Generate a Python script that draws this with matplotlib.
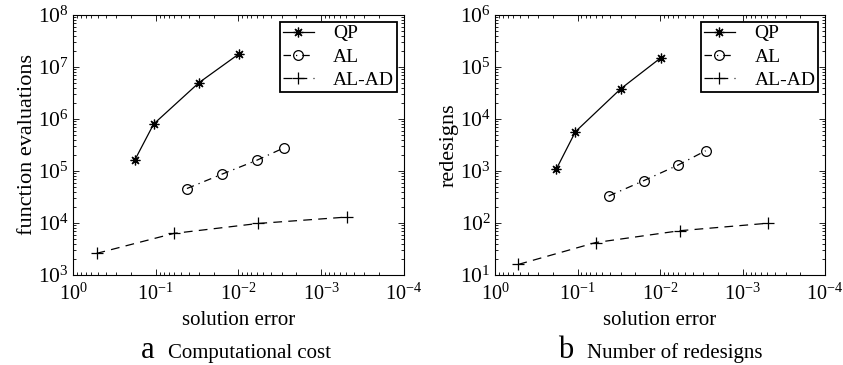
import matplotlib
matplotlib.use("Agg")
import matplotlib.pyplot as plt
from matplotlib.ticker import LogLocator, NullFormatter

plt.rcParams['font.family'] = ['Liberation Serif', 'DejaVu Serif']
plt.rcParams['mathtext.fontset'] = 'custom'
plt.rcParams['mathtext.rm'] = 'Liberation Serif'
plt.rcParams['mathtext.it'] = 'Liberation Serif:italic'
plt.rcParams['mathtext.bf'] = 'Liberation Serif:bold'

series_names = ["QP", "AL", "AL-AD"]

# Panel a: computational cost
qp_err_a = [0.18, 0.106, 0.030, 0.0098]
qp_fe = [1.6e5, 8.0e5, 5.0e6, 1.8e7]
al_err_a = [0.042, 0.0158, 0.00605, 0.0028]
al_fe = [4.6e4, 8.7e4, 1.6e5, 2.8e5]
alad_err_a = [0.52, 0.0605, 0.00578, 0.00049]
alad_fe = [2.6e3, 6.3e3, 9.8e3, 1.3e4]

# Panel b: number of redesigns
qp_err_b = [0.18, 0.106, 0.030, 0.0098]
qp_rd = [1.1e3, 5.7e3, 3.8e4, 1.5e5]
al_err_b = [0.042, 0.0158, 0.00605, 0.0028]
al_rd = [330, 650, 1300, 2450]
alad_err_b = [0.52, 0.0605, 0.00578, 0.00049]
alad_rd = [16, 42, 71, 99]

fig = plt.figure(figsize=(8.43, 3.65), dpi=100)

ax_a = fig.add_axes([0.0866, 0.2466, 0.3926, 0.7123])
ax_b = fig.add_axes([0.5872, 0.2466, 0.3915, 0.7123])

def draw(ax, xs, ys, ylim, ylabel):
    styles = [
        dict(ls='-', marker=(8, 2, 0), ms=7),
        dict(ls=(0, (6, 4, 1, 4)), marker='o', ms=7, mfc='none'),
        dict(ls=(0, (7, 5)), marker='+', ms=8),
    ]
    for name, x, y, st in zip(series_names, xs, ys, styles):
        ax.plot(x, y, color='black', lw=0.9, mec='black', mew=0.9, label=name, **st)
    ax.set_xscale('log')
    ax.set_yscale('log')
    ax.set_xlim(1, 1e-4)
    ax.set_ylim(*ylim)
    ax.xaxis.set_major_locator(LogLocator(base=10, numticks=10))
    ax.yaxis.set_major_locator(LogLocator(base=10, numticks=10))
    ax.xaxis.set_minor_locator(LogLocator(base=10, subs=range(2, 10), numticks=20))
    ax.yaxis.set_minor_locator(LogLocator(base=10, subs=range(2, 10), numticks=20))
    ax.xaxis.set_minor_formatter(NullFormatter())
    ax.yaxis.set_minor_formatter(NullFormatter())
    ax.tick_params(which='both', direction='in', top=True, right=True, width=0.6)
    ax.tick_params(axis='y', which='major', length=4, pad=3, labelsize=15.5)
    ax.tick_params(axis='x', which='major', length=4, pad=6, labelsize=14.5)
    ax.tick_params(which='minor', length=2)
    for s in ax.spines.values():
        s.set_linewidth(0.8)
    ax.set_xlabel('solution error', fontsize=15, labelpad=5)
    ax.set_ylabel(ylabel, fontsize=16, labelpad=1)
    leg = ax.legend(loc='upper right', fontsize=14, frameon=True, fancybox=False,
                    edgecolor='black', framealpha=1, handlelength=1.6,
                    handletextpad=1.0, borderaxespad=0.35, borderpad=0.15,
                    labelspacing=0.3)
    leg.get_frame().set_linewidth(1.3)

draw(ax_a, [qp_err_a, al_err_a, alad_err_a], [qp_fe, al_fe, alad_fe], (1e3, 1e8), 'function evaluations')
draw(ax_b, [qp_err_b, al_err_b, alad_err_b], [qp_rd, al_rd, alad_rd], (1e1, 1e6), 'redesigns')

yb = 1 - 358 / 365
fig.text(148 / 843, yb, 'a', fontsize=22, ha='center', va='baseline')
fig.text(168 / 843, yb, 'Computational cost', fontsize=15, ha='left', va='baseline')
fig.text(566 / 843, yb, 'b', fontsize=22, ha='center', va='baseline')
fig.text(587 / 843, yb, 'Number of redesigns', fontsize=15, ha='left', va='baseline')

fig.savefig('out.png', dpi=100)
